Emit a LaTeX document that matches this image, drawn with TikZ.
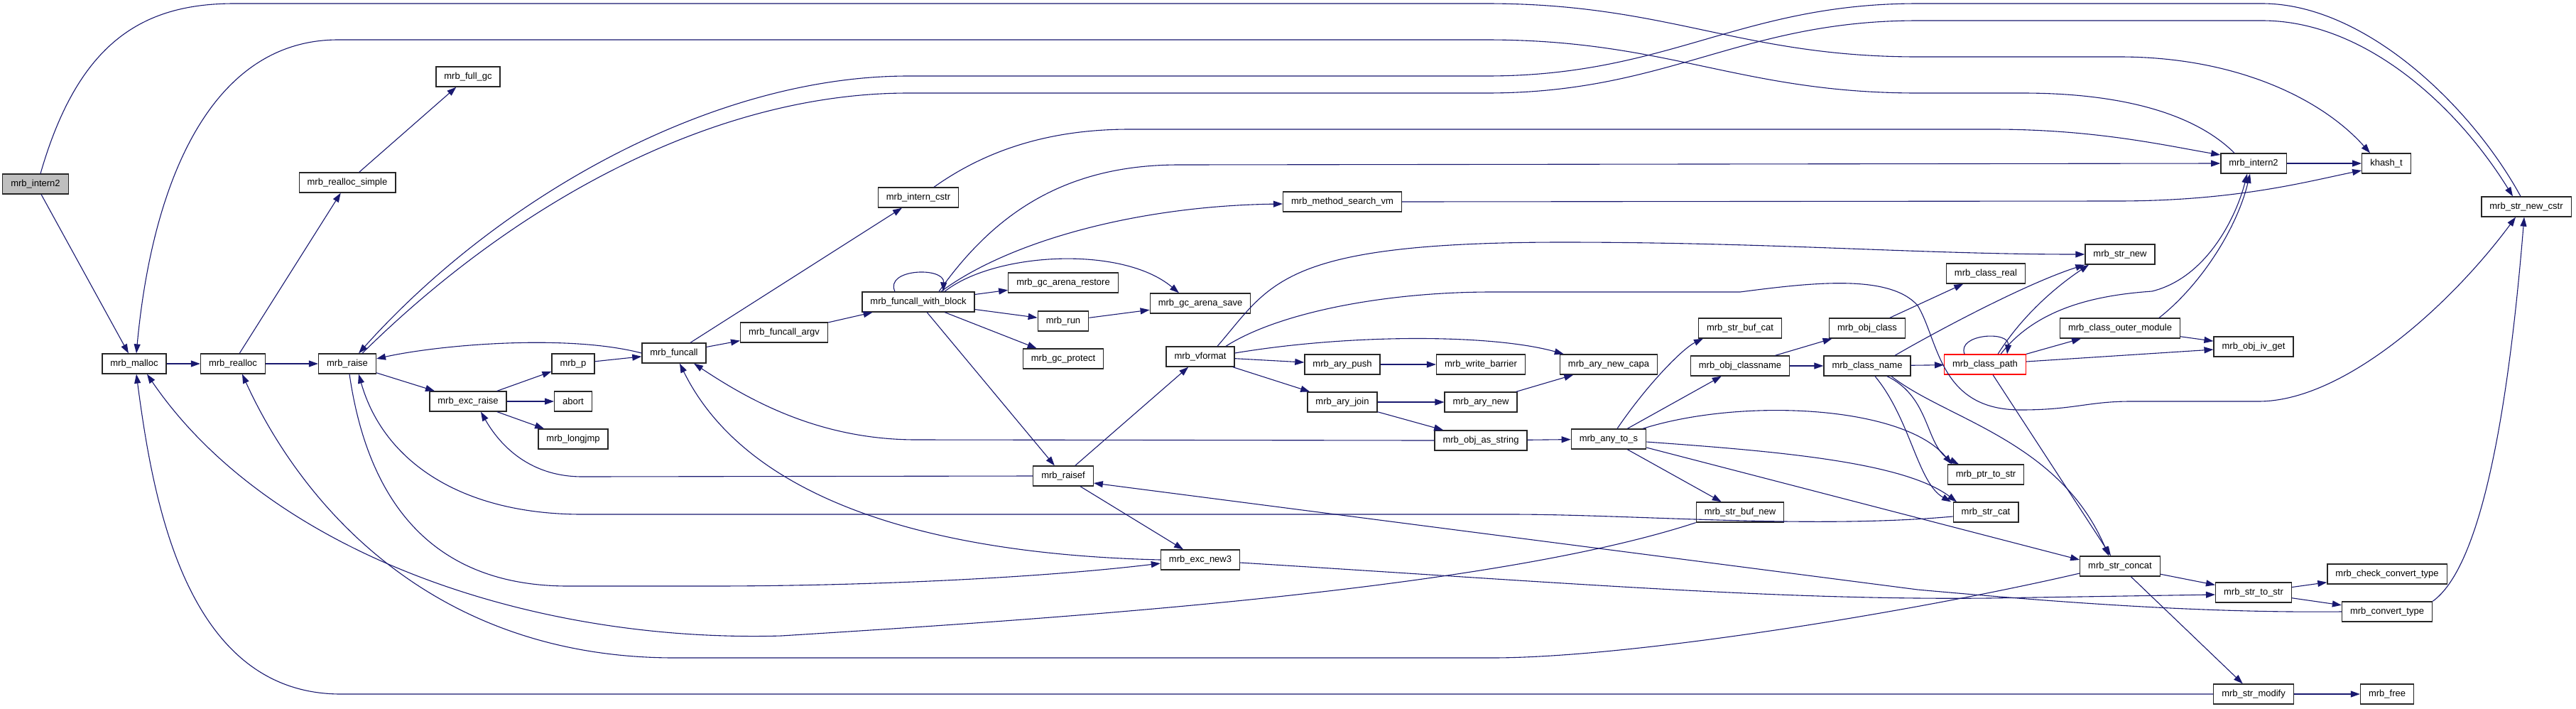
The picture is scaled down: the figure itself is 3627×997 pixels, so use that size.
\documentclass[tikz,border=0pt]{standalone}
\usepackage{fontspec}
\setmainfont{Liberation Sans}
\usepackage{tikz}
\usetikzlibrary{arrows.meta}
\definecolor{midnight}{RGB}{25,25,112}

\begin{document}
\begin{tikzpicture}[x=1pt, y=-1pt,
  fn/.style={draw=black!85, line width=1.3pt, fill=white, inner xsep=11.5pt,
             inner ysep=0pt, minimum height=28pt, font=\fontsize{13}{15}\selectfont},
  root/.style={fn, fill=black!25},
  trunc/.style={fn, draw=red},
  call/.style={draw=midnight, line width=1.1pt, -{Triangle[length=13pt,width=9pt]}}]
\useasboundingbox (0,0) rectangle (3627,997);
%
\node[root]  (intern2L)  at (50,259)   {mrb\_intern2};
\node[fn]    (malloc)    at (189,512)  {mrb\_malloc};
\node[fn]    (realloc)   at (328,512)  {mrb\_realloc};
\node[fn]    (raise)     at (489,512)  {mrb\_raise};
\node[fn]    (rsimple)   at (489,257)  {mrb\_realloc\_simple};
\node[fn]    (fullgc)    at (659,108)  {mrb\_full\_gc};
\node[fn]    (excraise)  at (659,565)  {mrb\_exc\_raise};
\node[fn]    (p)         at (807,512)  {mrb\_p};
\node[fn]    (abort)     at (807,565)  {abort};
\node[fn]    (longjmp)   at (807,618)  {mrb\_longjmp};
\node[fn]    (funcall)   at (949,497)  {mrb\_funcall};
\node[fn]    (argv)      at (1104,468) {mrb\_funcall\_argv};
\node[fn]    (icstr)     at (1293,278) {mrb\_intern\_cstr};
\node[fn]    (fwb)       at (1293,425) {mrb\_funcall\_with\_block};
\node[fn]    (restore)   at (1497,398) {mrb\_gc\_arena\_restore};
\node[fn]    (run)       at (1497,452) {mrb\_run};
\node[fn]    (protect)   at (1497,505) {mrb\_gc\_protect};
\node[fn]    (raisef)    at (1497,670) {mrb\_raisef};
\node[fn]    (save)      at (1690,427) {mrb\_gc\_arena\_save};
\node[fn]    (vformat)   at (1690,502) {mrb\_vformat};
\node[fn]    (excnew)    at (1690,788) {mrb\_exc\_new3};
\node[fn]    (msearch)   at (1890,284) {mrb\_method\_search\_vm};
\node[fn]    (push)      at (1890,513) {mrb\_ary\_push};
\node[fn]    (join)      at (1890,566) {mrb\_ary\_join};
\node[fn]    (wbarrier)  at (2085,513) {mrb\_write\_barrier};
\node[fn]    (arynew)    at (2085,566) {mrb\_ary\_new};
\node[fn]    (asstr)     at (2085,620) {mrb\_obj\_as\_string};
\node[fn]    (capa)      at (2265,513) {mrb\_ary\_new\_capa};
\node[fn]    (anytos)    at (2265,618) {mrb\_any\_to\_s};
\node[fn]    (bufcat)    at (2450,462) {mrb\_str\_buf\_cat};
\node[fn]    (clsname)   at (2450,515) {mrb\_obj\_classname};
\node[fn]    (bufnew)    at (2450,721) {mrb\_str\_buf\_new};
\node[fn]    (objcls)    at (2629,462) {mrb\_obj\_class};
\node[fn]    (cname)     at (2629,515) {mrb\_class\_name};
\node[fn]    (creal)     at (2796,385) {mrb\_class\_real};
\node[trunc] (cpath)     at (2795,513) {mrb\_class\_path};
\node[fn]    (ptrstr)    at (2796,668) {mrb\_ptr\_to\_str};
\node[fn]    (strcat)    at (2796,721) {mrb\_str\_cat};
\node[fn]    (strnew)    at (2985,358) {mrb\_str\_new};
\node[fn]    (outer)     at (2985,462) {mrb\_class\_outer\_module};
\node[fn]    (concat)    at (2985,797) {mrb\_str\_concat};
\node[fn]    (intern2R)  at (3173,230) {mrb\_intern2};
\node[fn]    (ivget)     at (3173,488) {mrb\_obj\_iv\_get};
\node[fn]    (tostr)     at (3173,834) {mrb\_str\_to\_str};
\node[fn]    (modify)    at (3173,977) {mrb\_str\_modify};
\node[fn]    (khash)     at (3360,230) {khash\_t};
\node[fn]    (checkconv) at (3361,808) {mrb\_check\_convert\_type};
\node[fn]    (convtype)  at (3361,861) {mrb\_convert\_type};
\node[fn]    (free)      at (3361,977) {mrb\_free};
\node[fn]    (cstr)      at (3557,291) {mrb\_str\_new\_cstr};
%
\draw[call] (intern2L) -- (malloc);
\draw[call] ([xshift=7pt]intern2L.north) .. controls (110,60) and (200,5) .. (330,5) -- (2093,5)
  .. controls (2350,5) and (2450,80) .. (2700,80) -- (2984,80)
  .. controls (3150,80) and (3270,140) .. ([xshift=-23pt]khash.north);
\draw[call] ([xshift=-27pt]intern2R.north) .. controls (3080,150) and (2960,131) .. (2848,131) -- (2700,131)
  .. controls (2450,131) and (2350,56) .. (2093,56) -- (476,56)
  .. controls (300,56) and (215,250) .. ([xshift=3pt]malloc.north);
\draw[call] ([xshift=-8pt]cstr.north) .. controls (3480,150) and (3330,5) .. (3185,5) -- (2700,5)
  .. controls (2450,5) and (2350,107) .. (2093,107) -- (1279,107)
  .. controls (1000,107) and (700,280) .. ([xshift=16pt]raise.north);
\draw[call] ([xshift=21pt]raise.north) .. controls (720,290) and (1000,131) .. (1279,131) -- (2093,131)
  .. controls (2350,131) and (2450,29) .. (2700,29) -- (3185,29)
  .. controls (3330,29) and (3460,150) .. ([xshift=-19pt]cstr.north);
\draw[call] (funcall.west) .. controls (800,470) and (620,485) .. ([yshift=7pt]raise.east);
\draw[call] (malloc) -- (realloc);
\draw[call] (realloc) -- (raise);
\draw[call] (realloc) -- (rsimple);
\draw[call] (rsimple) -- (fullgc);
\draw[call] (raise) -- (excraise);
\draw[call] (excraise) -- (p);
\draw[call] (excraise) -- (abort);
\draw[call] (excraise) -- (longjmp);
\draw[call] (p) -- (funcall);
\draw[call] (funcall) -- (argv);
\draw[call] (funcall) -- (icstr);
\draw[call] (argv) -- (fwb);
\draw[call] ([xshift=22pt]icstr.north) .. controls (1390,210) and (1480,182) .. (1590,182) -- (2806,182)
  .. controls (2950,182) and (3050,205) .. ([yshift=12pt]intern2R.west);
\draw[call] ([xshift=29pt]fwb.north) .. controls (1400,300) and (1500,232) .. (1660,232) -- (intern2R.west);
\draw[call] ([xshift=32pt]fwb.north) .. controls (1420,340) and (1600,290) .. ([yshift=-3pt]msearch.west);
\draw[call] ([xshift=-33pt]fwb.north) .. controls (1245,378) and (1330,375) .. ([xshift=35pt]fwb.north);
\draw[call] ([xshift=37pt]fwb.north) .. controls (1400,355) and (1580,345) .. ([xshift=-30pt]save.north);
\draw[call] (fwb) -- (restore);
\draw[call] (fwb) -- (run);
\draw[call] (fwb) -- (protect);
\draw[call] (fwb) -- (raisef);
\draw[call] (run) -- (save);
\draw[call] (raisef) -- (vformat);
\draw[call] (raisef) -- (excnew);
\draw[call] (raisef.west) -- (820,671) .. controls (740,671) and (700,620) .. ([xshift=18pt]excraise.south);
\draw[call] (excnew.west) .. controls (1300,780) and (1050,700) .. ([xshift=8pt]funcall.south);
\draw[call] ([xshift=3pt]raise.south) .. controls (520,720) and (620,825) .. (800,825) -- (1000,825)
  .. controls (1200,825) and (1450,815) .. ([yshift=-5pt]excnew.west);
\draw[call] ([yshift=-6pt]strcat.west) .. controls (2550,745) and (2300,724) .. (2127,724) -- (820,724)
  .. controls (650,724) and (540,650) .. ([xshift=16pt]raise.south);
\draw[call] (bufnew.south west) .. controls (2100,830) and (1500,870) .. (1100,895)
  .. controls (750,905) and (380,780) .. ([xshift=18pt]malloc.south);
\draw[call] ([yshift=-10pt]concat.west) .. controls (2700,860) and (2300,926) .. (2100,926) -- (950,926)
  .. controls (600,926) and (420,700) .. ([xshift=13pt]realloc.south);
\draw[call] (modify.west) -- (480,977) .. controls (260,977) and (215,700) .. ([xshift=3pt]malloc.south);
\draw[call] ([xshift=24pt]vformat.north) .. controls (1790,400) and (1800,341) .. (2200,341)
  .. controls (2500,341) and (2700,358) .. (strnew.west);
\draw[call] ([xshift=36pt]vformat.north) .. controls (1800,440) and (1950,411) .. (2100,411) -- (2450,411)
  .. controls (2550,398) and (2660,385) .. (2700,430) .. controls (2730,480) and (2730,577) .. (2845,577)
  .. controls (2920,577) and (2940,565) .. (3000,565) -- (3180,565)
  .. controls (3300,565) and (3450,430) .. ([xshift=-15pt]cstr.south);
\draw[call] ([yshift=5pt]vformat.east) .. controls (1900,470) and (2100,470) .. ([xshift=6pt]capa.north west);
\draw[call] (vformat) -- (push);
\draw[call] (vformat) -- (join);
\draw[call] (push) -- (wbarrier);
\draw[call] (join) -- (arynew);
\draw[call] (join) -- (asstr);
\draw[call] (arynew) -- (capa);
\draw[call] (asstr) -- (anytos);
\draw[call] (asstr.west) -- (1290,619) .. controls (1150,619) and (1050,560) .. ([xshift=28pt]funcall.south);
\draw[call] ([xshift=12pt]anytos.north) .. controls (2320,540) and (2370,490) .. ([xshift=-52pt]bufcat.south);
\draw[call] (anytos) -- (clsname);
\draw[call] (anytos) -- (bufnew);
\draw[call] ([xshift=48pt]anytos.north) .. controls (2450,560) and (2680,570) .. ([xshift=-48pt]ptrstr.north);
\draw[call] ([yshift=-4pt]anytos.east) .. controls (2500,635) and (2680,650) .. ([xshift=-41pt]strcat.north);
\draw[call] ([yshift=-12pt]anytos.east) -- ([yshift=9pt]concat.west);
\draw[call] (clsname) -- (objcls);
\draw[call] (clsname) -- (cname);
\draw[call] (objcls) -- (creal);
\draw[call] (cname) -- (cpath);
\draw[call] ([xshift=39pt]cname.north) .. controls (2720,470) and (2850,400) .. (strnew.south west);
\draw[call] ([xshift=11pt]cname.south) .. controls (2690,590) and (2700,680) .. ([xshift=-49pt]strcat.north);
\draw[call] ([xshift=28pt]cname.south) .. controls (2720,560) and (2710,630) .. ([xshift=-38pt]ptrstr.north);
\draw[call] ([xshift=34pt]cname.south) .. controls (2740,590) and (2900,620) .. ([xshift=-16pt]concat.north);
\draw[call] ([xshift=11pt]cpath.south) -- ([xshift=-13pt]concat.north);
\draw[call] ([xshift=-29pt]cpath.north) .. controls (2755,470) and (2830,465) .. ([xshift=31pt]cpath.north);
\draw[call] ([xshift=18pt]cpath.north) .. controls (2850,440) and (2900,400) .. ([xshift=-44pt]strnew.south);
\draw[call] ([xshift=22pt]cpath.north) .. controls (2870,430) and (2960,415) .. (3030,410)
  .. controls (3110,390) and (3150,300) .. ([xshift=-9pt]intern2R.south);
\draw[call] ([xshift=55pt]outer.north) .. controls (3100,400) and (3150,320) .. ([xshift=-5pt]intern2R.south);
\draw[call] (cpath.north east) -- ([xshift=-55pt]outer.south);
\draw[call] ([yshift=4pt]cpath.east) -- ([yshift=-4pt]ivget.west);
\draw[call] (outer) -- (ivget);
\draw[call] (concat) -- (tostr);
\draw[call] (concat) -- (modify);
\draw[call] (tostr) -- (checkconv);
\draw[call] (tostr) -- (convtype);
\draw[call] (modify) -- (free);
\draw[call] (intern2R) -- (khash);
\draw[call] (convtype.north east) .. controls (3490,800) and (3530,600) .. ([xshift=-3pt]cstr.south);
\draw[call] (convtype.west) .. controls (3100,863) and (2900,848) .. (2700,830) -- ([yshift=-10pt]raisef.east);
\draw[call] ([yshift=-4pt]excnew.east) .. controls (2200,820) and (2500,845) .. (2800,842) -- ([yshift=-3pt]tostr.west);
\draw[call] (msearch.east) -- (2980,283) .. controls (3150,283) and (3250,255) .. ([yshift=-10pt]khash.west);
%
\end{tikzpicture}
\end{document}
